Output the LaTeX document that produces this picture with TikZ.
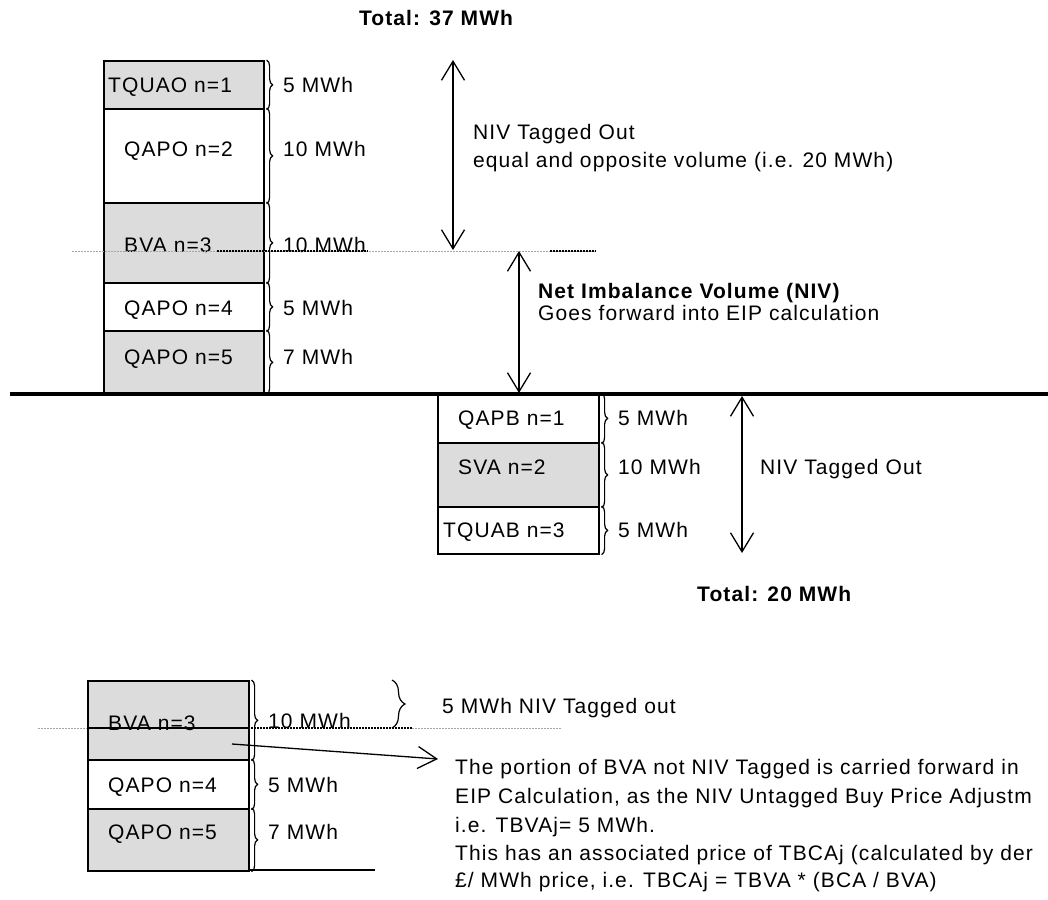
\documentclass[tikz,border=0pt]{standalone}
\usepackage{fontspec}
\setmainfont{Liberation Sans}[LetterSpace=5.2]
\usetikzlibrary{arrows.meta,decorations.pathreplacing}
\definecolor{boxgray}{RGB}{220,220,220}
\definecolor{dotgray}{RGB}{165,165,165}
\tikzset{
  cell/.style={draw=black, line width=1.6pt, inner sep=0pt, anchor=north west},
  gcell/.style={cell, fill=boxgray},
  txt/.style={font=\fontsize{21}{24}\selectfont, anchor=base west, inner sep=0pt},
  btxt/.style={txt, font=\fontsize{21}{24}\selectfont\bfseries},
  brc/.style={decorate, decoration={brace, amplitude=6pt}, line width=1.2pt},
  bigbrc/.style={decorate, decoration={brace, amplitude=13pt}, line width=1.2pt},
  dblarrow/.style={{Straight Barb[length=19pt,width=23pt]}-{Straight Barb[length=19pt,width=23pt]}, line width=1.3pt},
  onearrow/.style={-{Straight Barb[length=19pt,width=22pt]}, line width=1.3pt},
  gdots/.style={draw=dotgray, line width=1pt, dash pattern=on 1.5pt off 1.5pt},
  kdots/.style={draw=black, line width=1.2pt, dash pattern=on 1.5pt off 1.5pt},
}
\begin{document}
\begin{tikzpicture}[x=1pt,y=-1pt]
\clip (0,0) rectangle (1048,899);
\fill[white] (0,0) rectangle (1048,899);

% ---------- top stack ----------
\node[btxt, anchor=base] (tot37) at (436,26) {Total: 37 MWh};

\node[gcell, minimum width=160pt, minimum height=48pt] (r1) at (103,60) {};
\node[cell, minimum width=160pt, minimum height=94pt] (r2) at (103,108) {};
\node[gcell, minimum width=160pt, minimum height=80pt] (r3) at (103,202) {};
\node[cell, minimum width=160pt, minimum height=48pt] (r4) at (103,282) {};
\node[gcell, minimum width=160pt, minimum height=63pt] (r5) at (103,330) {};

\node[txt] (t1) at (108,92) {TQUAO n=1};
\node[txt] (t2) at (124,156) {QAPO n=2};
\node[txt] (t3) at (124,252.5) {BVA n=3};
\node[txt] (t4) at (124,315.5) {QAPO n=4};
\node[txt] (t5) at (124,364.5) {QAPO n=5};

\draw[brc] ([xshift=2pt]r1.north east) -- ([xshift=2pt]r1.south east);
\draw[brc] ([xshift=2pt]r2.north east) -- ([xshift=2pt]r2.south east);
\draw[brc] ([xshift=2pt]r3.north east) -- ([xshift=2pt]r3.south east);
\draw[brc] ([xshift=2pt]r4.north east) -- ([xshift=2pt]r4.south east);
\draw[brc] ([xshift=2pt]r5.north east) -- ([xshift=2pt]r5.south east);

\node[txt] (m1) at (283,92) {5 MWh};
\node[txt] (m2) at (283,156) {10 MWh};
\node[txt] (m3) at (283,252.5) {10 MWh};
\node[txt] (m4) at (283,315.5) {5 MWh};
\node[txt] (m5) at (283,364.5) {7 MWh};

% dotted level line
\coordinate (d1a) at (72,251);
\coordinate (d1b) at (596,251);
\coordinate (d1c) at (217,251);
\coordinate (d1d) at (368,251);
\coordinate (d1e) at (550,251);
\draw[gdots] (d1a) -- (d1b);
\draw[kdots] (d1c) -- (d1d);
\draw[kdots] (d1e) -- (d1b);

% arrows
\coordinate (a1t) at (453,60);
\coordinate (a1b) at (453,250);
\draw[dblarrow] (a1t) -- (a1b);
\coordinate (a2t) at (519,251);
\coordinate (a2b) at (519,393);
\draw[dblarrow] (a2t) -- (a2b);

\node[txt] (niv1) at (473,139.5) {NIV Tagged Out};
\node[txt] (niv1b) at (473,167.5) {equal and opposite volume (i.e. 20 MWh)};
\node[btxt] (net) at (538,298.5) {Net Imbalance Volume (NIV)};
\node[txt] (goes) at (538,320.5) {Goes forward into EIP calculation};

% ---------- lower stack ----------
\node[cell, minimum width=161pt, minimum height=49pt] (s1) at (437,393) {};
\node[gcell, minimum width=161pt, minimum height=64pt] (s2) at (437,442) {};
\node[cell, minimum width=161pt, minimum height=47pt] (s3) at (437,506) {};

% base line
\coordinate (bl1) at (10,394);
\coordinate (bl2) at (1048,394);
\draw[line width=3.5pt] (bl1) -- (bl2);

\node[txt] (u1) at (458,425.5) {QAPB n=1};
\node[txt] (u2) at (458,474.5) {SVA n=2};
\node[txt] (u3) at (443,537.5) {TQUAB n=3};

\draw[brc] ([xshift=2pt]s1.north east) -- ([xshift=2pt]s1.south east);
\draw[brc] ([xshift=2pt]s2.north east) -- ([xshift=2pt]s2.south east);
\draw[brc] ([xshift=2pt]s3.north east) -- ([xshift=2pt]s3.south east);

\node[txt] (v1) at (618,425.5) {5 MWh};
\node[txt] (v2) at (618,474.5) {10 MWh};
\node[txt] (v3) at (618,537.5) {5 MWh};

\coordinate (a3t) at (742,396);
\coordinate (a3b) at (742,553);
\draw[dblarrow] (a3t) -- (a3b);
\node[txt] (niv2) at (760,474.5) {NIV Tagged Out};
\node[btxt] (tot20) at (697,601) {Total: 20 MWh};

% ---------- bottom detail ----------
\node[gcell, minimum width=161pt, minimum height=79pt] (w3) at (87,680) {};
\node[cell, minimum width=161pt, minimum height=49pt] (w4) at (87,759) {};
\node[gcell, minimum width=161pt, minimum height=62pt] (w5) at (87,808) {};
\coordinate (wl1) at (87,728);
\coordinate (wl2) at (248,728);
\draw[line width=1.6pt] (wl1) -- (wl2);

\coordinate (d2a) at (38,728);
\coordinate (d2b) at (562,728);
\coordinate (d2c) at (248,728);
\coordinate (d2d) at (412,728);
\draw[gdots] (d2a) -- (wl1);
\draw[gdots] (d2d) -- (d2b);
\draw[kdots] (d2c) -- (d2d);

\node[txt] (x3) at (108,730) {BVA n=3};
\node[txt] (x4) at (108,792.5) {QAPO n=4};
\node[txt] (x5) at (108,839.5) {QAPO n=5};

\draw[brc] ([xshift=2pt]w3.north east) -- ([xshift=2pt]w3.south east);
\draw[brc] ([xshift=2pt]w4.north east) -- ([xshift=2pt]w4.south east);
\draw[brc] ([xshift=2pt]w5.north east) -- ([xshift=2pt]w5.south east);

\node[txt] (y3) at (268,728.5) {10 MWh};
\node[txt] (y4) at (268,792.5) {5 MWh};
\node[txt] (y5) at (268,839.5) {7 MWh};

\coordinate (fl1) at (248,870);
\coordinate (fl2) at (375,870);
\draw[line width=1.4pt] (fl1) -- (fl2);

\coordinate (sb1) at (392,680);
\coordinate (sb2) at (392,728);
\draw[bigbrc] (sb1) -- (sb2);
\node[txt] (tag5) at (442,713.5) {5 MWh NIV Tagged out};

\coordinate (pa1) at (232,744);
\coordinate (pa2) at (438,759);
\draw[onearrow] (pa1) -- (pa2);

\node[txt] (tb1) at (455,774.5) {The portion of BVA not NIV Tagged is carried forward in};
\node[txt] (tb2) at (455,803.5) {EIP Calculation, as the NIV Untagged Buy Price Adjustm};
\node[txt] (tb3) at (455,832) {i.e. TBVAj= 5 MWh.};
\node[txt] (tb4) at (455,860) {This has an associated price of TBCAj (calculated by der};
\node[txt] (tb5) at (455,887) {£/ MWh price, i.e. TBCAj = TBVA * (BCA / BVA)};
\end{tikzpicture}
\end{document}
